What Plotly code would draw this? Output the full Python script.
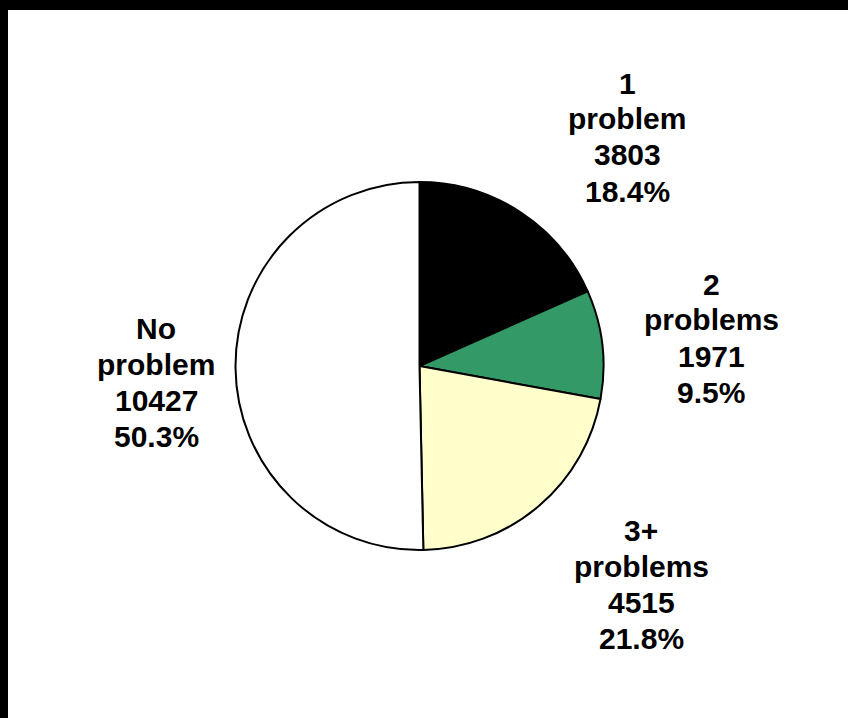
import plotly.graph_objects as go

# Survey breakdown: number of problems reported
categories = ["1 problem", "2 problems", "3+ problems", "No problem"]
label_lines = [["1", "problem"], ["2", "problems"], ["3+", "problems"], ["No", "problem"]]
counts = [3803, 1971, 4515, 10427]
colors = ["#000000", "#339966", "#FFFFCC", "#FFFFFF"]

W, H = 848, 718
total = sum(counts)
percents = [100.0 * c / total for c in counts]

# Pie geometry in pixels
cx, cy, r = 419.5, 366, 184

fig = go.Figure(go.Pie(
    labels=categories,
    values=counts,
    sort=False,
    direction="clockwise",
    rotation=0,
    marker=dict(colors=colors, line=dict(color="#000000", width=2)),
    textinfo="none",
    hoverinfo="skip",
    showlegend=False,
    domain=dict(x=[(cx - r) / W, (cx + r) / W], y=[1 - (cy + r) / H, 1 - (cy - r) / H]),
))

# Label block placement (centre x, middle y of the block) in pixels
label_pos = [(627, 137), (711, 338), (641, 584.5), (156, 382.5)]
line_gap = 36

annotations = []
for lines, cnt, pct, (lx, ly) in zip(label_lines, counts, percents, label_pos):
    rows = lines + [f"{cnt}", f"{pct:.1f}%"]
    n = len(rows)
    for i, row in enumerate(rows):
        py = ly + (i - (n - 1) / 2) * line_gap
        annotations.append(dict(
            x=lx / W, y=1 - py / H, xref="paper", yref="paper",
            text=f"<b>{row}</b>", showarrow=False,
            xanchor="center", yanchor="middle",
            font=dict(family="Liberation Sans, Arial, sans-serif", size=30, color="#000000"),
        ))

fig.update_layout(
    width=W, height=H,
    margin=dict(l=0, r=0, t=0, b=0),
    paper_bgcolor="#FFFFFF",
    plot_bgcolor="#FFFFFF",
    annotations=annotations,
    shapes=[
        dict(type="rect", xref="paper", yref="paper", x0=0, x1=1, y0=1 - 10 / H, y1=1,
             fillcolor="#000000", line=dict(width=0), layer="above"),
        dict(type="rect", xref="paper", yref="paper", x0=0, x1=8 / W, y0=0, y1=1,
             fillcolor="#000000", line=dict(width=0), layer="above"),
    ],
)

fig.write_html(
    "out.html",
    config={"displayModeBar": False},
    post_script="document.body.style.margin='0';document.body.style.overflow='hidden';"
                "document.documentElement.style.overflow='hidden';",
)
